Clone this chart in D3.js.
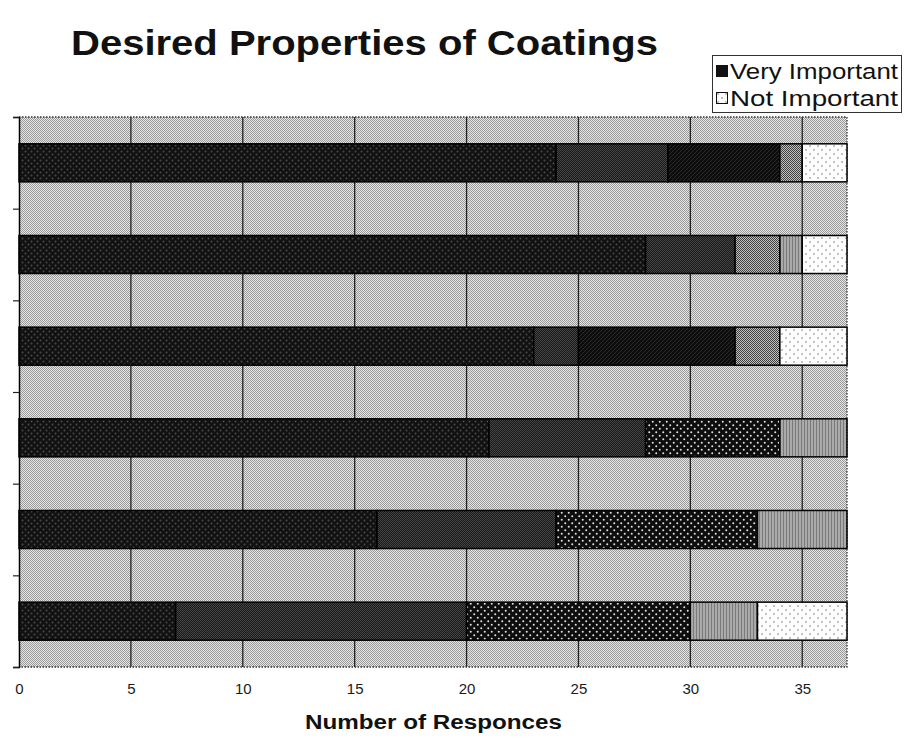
<!DOCTYPE html>
<html>
<head>
<meta charset="utf-8">
<script src="https://cdn.jsdelivr.net/npm/d3@7/dist/d3.min.js"></script>
<style>
  html, body { margin: 0; padding: 0; background: #fff; }
  svg { display: block; font-family: "Liberation Sans", Arial, Helvetica, sans-serif; }
</style>
</head>
<body>
<svg id="chart" width="904" height="740"></svg>
<script>
// Survey responses per coating property (top bar first), stacked by rating
const categories = ["Property 1", "Property 2", "Property 3", "Property 4", "Property 5", "Property 6"];
const seriesNames = ["Very Important", "Important", "Fairly Important", "Moderately Important",
                     "Somewhat Important", "Slightly Important", "Not Important"];
const veryImportant       = [24, 28, 23, 21, 16, 7];
const important           = [5, 4, 2, 7, 8, 13];
const fairlyImportant     = [5, 0, 7, 0, 0, 0];
const moderatelyImportant = [0, 0, 0, 6, 9, 10];
const somewhatImportant   = [1, 2, 2, 0, 0, 0];
const slightlyImportant   = [0, 1, 0, 3, 4, 3];
const notImportant        = [2, 2, 3, 0, 0, 4];
const legendKeys = ["Very Important", "Not Important"];
const xTicks = [0, 5, 10, 15, 20, 25, 30, 35];
const xMax = 37;

const seriesValues = [veryImportant, important, fairlyImportant, moderatelyImportant,
                      somewhatImportant, slightlyImportant, notImportant];
const rows = categories.map((c, i) => {
  const r = { category: c };
  seriesNames.forEach((s, k) => { r[s] = seriesValues[k][i]; });
  return r;
});

const svg = d3.select("#chart");
const defs = svg.append("defs");

// Fill patterns (monochrome print style)
function pattern(id, w, h, base, draw) {
  const p = defs.append("pattern").attr("id", id)
    .attr("patternUnits", "userSpaceOnUse").attr("width", w).attr("height", h);
  p.append("rect").attr("width", w).attr("height", h).attr("fill", base);
  draw(p);
}
pattern("bg", 2, 2, "#e6e6e6", p => {
  p.append("rect").attr("x", 0).attr("y", 0).attr("width", 1).attr("height", 1).attr("fill", "#999");
  p.append("rect").attr("x", 1).attr("y", 1).attr("width", 1).attr("height", 1).attr("fill", "#999");
});
pattern("pA", 6, 6, "#111", p => {
  p.append("circle").attr("cx", 1.5).attr("cy", 1.5).attr("r", 1).attr("fill", "#484848");
  p.append("circle").attr("cx", 4.5).attr("cy", 4.5).attr("r", 1).attr("fill", "#484848");
});
pattern("pB", 2, 2, "#1a1a1a", p => {
  p.append("rect").attr("x", 0).attr("y", 0).attr("width", 1).attr("height", 1).attr("fill", "#444");
  p.append("rect").attr("x", 1).attr("y", 1).attr("width", 1).attr("height", 1).attr("fill", "#444");
});
pattern("pX", 4, 4, "#0d0d0d", p => {
  p.append("path").attr("d", "M0,4 L4,0").attr("stroke", "#2a2a2a").attr("stroke-width", 1);
});
pattern("pC", 7, 7, "#0e0e0e", p => {
  p.append("circle").attr("cx", 1.75).attr("cy", 1.75).attr("r", 1).attr("fill", "#e0e0e0");
  p.append("circle").attr("cx", 5.25).attr("cy", 5.25).attr("r", 1).attr("fill", "#e0e0e0");
});
pattern("pD", 2, 2, "#c2c2c2", p => {
  p.append("rect").attr("x", 0).attr("y", 0).attr("width", 1).attr("height", 1).attr("fill", "#404040");
  p.append("rect").attr("x", 1).attr("y", 1).attr("width", 1).attr("height", 1).attr("fill", "#404040");
});
pattern("pE", 3, 3, "#aaaaaa", p => {
  p.append("rect").attr("x", 0).attr("y", 0).attr("width", 1).attr("height", 3).attr("fill", "#7a7a7a");
});
pattern("pF", 8, 8, "#fdfdfd", p => {
  p.append("circle").attr("cx", 2).attr("cy", 2).attr("r", 0.8).attr("fill", "#777");
  p.append("circle").attr("cx", 6).attr("cy", 6).attr("r", 0.8).attr("fill", "#777");
});
const fills = ["url(#pA)", "url(#pB)", "url(#pX)", "url(#pC)", "url(#pD)", "url(#pE)", "url(#pF)"];
const fillOf = d3.scaleOrdinal().domain(seriesNames).range(fills);

// Plot area
const plot = { left: 19, right: 847, top: 117, bottom: 667 };
const x = d3.scaleLinear().domain([0, xMax]).range([plot.left, plot.right]);
const y = d3.scaleBand().domain(categories).range([plot.top, plot.bottom])
  .paddingInner(0.585).paddingOuter(0.2925);

svg.append("rect")
  .attr("x", plot.left).attr("y", plot.top)
  .attr("width", plot.right - plot.left).attr("height", plot.bottom - plot.top)
  .attr("fill", "url(#bg)");

// Vertical gridlines
svg.append("g").selectAll("line").data(xTicks.filter(t => t > 0)).join("line")
  .attr("x1", d => x(d)).attr("x2", d => x(d))
  .attr("y1", plot.top).attr("y2", plot.bottom)
  .attr("stroke", "#222").attr("stroke-width", 1.3);

// Dotted frame on top/right/bottom
svg.append("path")
  .attr("d", `M${plot.left},${plot.top}H${plot.right}V${plot.bottom}H${plot.left}`)
  .attr("fill", "none").attr("stroke", "#333").attr("stroke-width", 1.3)
  .attr("stroke-dasharray", "1.5,1.5");

// Stacked bars
const stack = d3.stack().keys(seriesNames);
const layers = stack(rows);
svg.append("g").selectAll("g").data(layers).join("g")
  .attr("fill", d => fillOf(d.key))
  .selectAll("rect").data(d => d.filter(s => s[1] - s[0] > 0)).join("rect")
  .attr("x", d => x(d[0]))
  .attr("y", d => y(d.data.category))
  .attr("width", d => x(d[1]) - x(d[0]))
  .attr("height", y.bandwidth())
  .attr("stroke", "#000").attr("stroke-width", 1.5);

// Left axis: tick marks at category boundaries
const yEdges = d3.scaleLinear().domain([0, categories.length]).range([plot.bottom, plot.top]);
const leftAxis = svg.append("g").attr("transform", `translate(${plot.left},0)`)
  .call(d3.axisLeft(yEdges).tickValues(d3.range(categories.length + 1)).tickSize(6).tickFormat(""));
leftAxis.select(".domain").attr("stroke", "#000").attr("stroke-width", 1.5);
leftAxis.selectAll(".tick line").attr("stroke", "#222").attr("stroke-width", 1.2);

// Bottom axis labels
const bottomAxis = svg.append("g").attr("transform", `translate(0,${plot.bottom})`)
  .call(d3.axisBottom(x).tickValues(xTicks).tickSize(0).tickPadding(16));
bottomAxis.select(".domain").remove();
bottomAxis.selectAll("text")
  .attr("font-family", "'Liberation Sans', Arial, sans-serif")
  .attr("font-size", 15).attr("fill", "#1a1a1a");

// Title
svg.append("text").attr("x", 71).attr("y", 55)
  .attr("font-size", 35).attr("font-weight", "bold").attr("fill", "#111")
  .attr("textLength", 587).attr("lengthAdjust", "spacingAndGlyphs")
  .text("Desired Properties of Coatings");

// Axis title
svg.append("text").attr("x", 305).attr("y", 729)
  .attr("font-size", 20).attr("font-weight", "bold").attr("fill", "#111")
  .attr("textLength", 257).attr("lengthAdjust", "spacingAndGlyphs")
  .text("Number of Responces");

// Legend
const lg = svg.append("g");
lg.append("rect").attr("x", 712.5).attr("y", 55.5).attr("width", 189).attr("height", 57)
  .attr("fill", "#fff").attr("stroke", "#333").attr("stroke-width", 1);
const legendFill = { "Very Important": "#111", "Not Important": "url(#pF)" };
legendKeys.forEach((k, i) => {
  const cy = 71 + i * 27;
  lg.append("rect").attr("x", 716.5).attr("y", cy - 5.5).attr("width", 11).attr("height", 11)
    .attr("fill", legendFill[k]).attr("stroke", "#111").attr("stroke-width", 1);
  lg.append("text").attr("x", 730).attr("y", cy + 8)
    .attr("font-size", 22).attr("fill", "#111")
    .attr("textLength", 168).attr("lengthAdjust", "spacingAndGlyphs")
    .text(k);
});
</script>
</body>
</html>
